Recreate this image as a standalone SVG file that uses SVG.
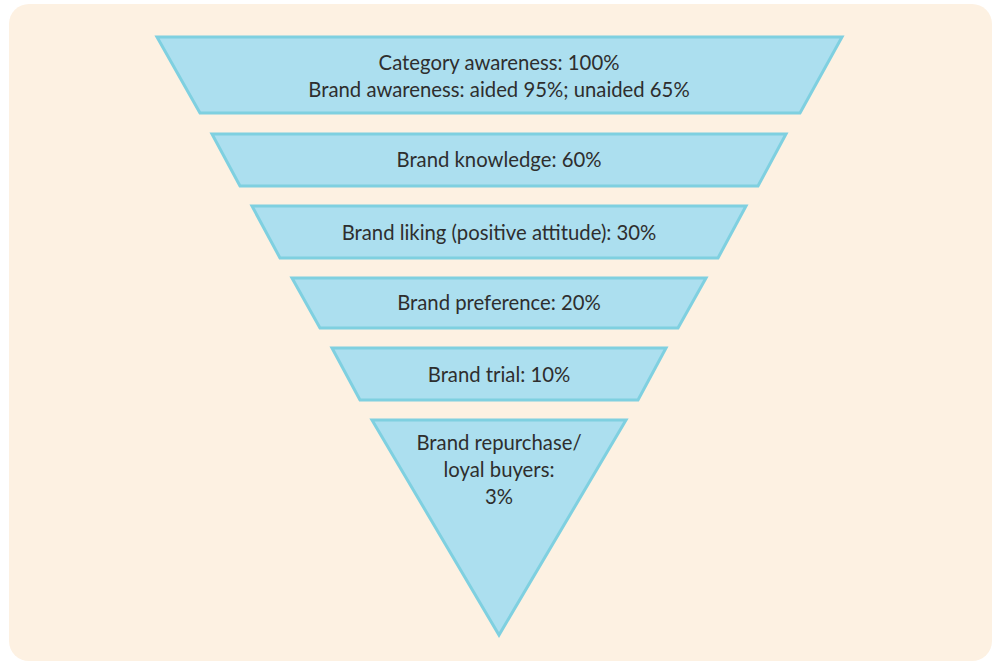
<svg xmlns="http://www.w3.org/2000/svg" width="994" height="664" viewBox="0 0 994 664">
<style>
.stage{fill:#acdfef;stroke:#7fd0e0;stroke-width:3;stroke-linejoin:miter}
.t{font-family:Lato,"Open Sans","Liberation Sans",sans-serif;font-size:20.3px;fill:#2e2e2e;text-anchor:middle}
</style>
<rect x="9" y="4" width="983" height="657" rx="20" fill="#fdf1e2"/>
<g id="stage1">
<polygon class="stage" points="157,37 842,37 800,113 200,113"/>
<text class="t" x="499" y="70">Category awareness: 100%</text>
<text class="t" x="499" y="97">Brand awareness: aided 95%; unaided 65%</text>
</g>
<g id="stage2">
<polygon class="stage" points="212,134 786,134 758,186 240,186"/>
<text class="t" x="499" y="167">Brand knowledge: 60%</text>
</g>
<g id="stage3">
<polygon class="stage" points="252,206 746,206 718,258 280,258"/>
<text class="t" x="499" y="240">Brand liking (positive attitude): 30%</text>
</g>
<g id="stage4">
<polygon class="stage" points="292,278 706,278 678,328 320,328"/>
<text class="t" x="499" y="310">Brand preference: 20%</text>
</g>
<g id="stage5">
<polygon class="stage" points="332,348 666,348 638,400 360,400"/>
<text class="t" x="499" y="382">Brand trial: 10%</text>
</g>
<g id="stage6">
<polygon class="stage" points="372,420 626,420 499,635"/>
<text class="t" x="499" y="450">Brand repurchase/</text>
<text class="t" x="499" y="477">loyal buyers:</text>
<text class="t" x="499" y="504">3%</text>
</g>
<g id="connectors"></g>
</svg>
